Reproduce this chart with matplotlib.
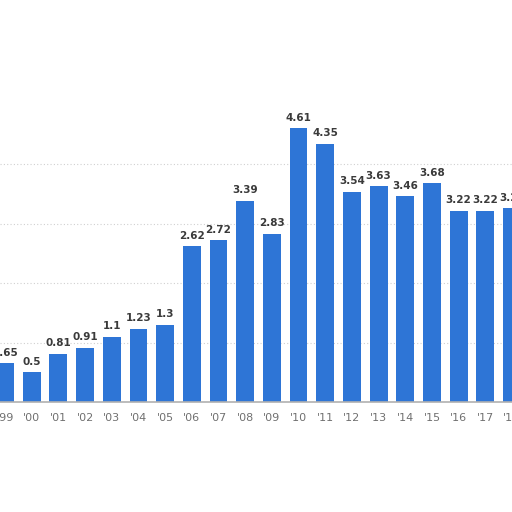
import matplotlib
matplotlib.use("Agg")
import matplotlib.pyplot as plt

years = ["'99", "'00", "'01", "'02", "'03", "'04", "'05", "'06", "'07", "'08",
         "'09", "'10", "'11", "'12", "'13", "'14", "'15", "'16", "'17", "'18"]
values = [0.65, 0.5, 0.81, 0.91, 1.1, 1.23, 1.3, 2.62, 2.72, 3.39,
          2.83, 4.61, 4.35, 3.54, 3.63, 3.46, 3.68, 3.22, 3.22, 3.26]
labels = ["0.65", "0.5", "0.81", "0.91", "1.1", "1.23", "1.3", "2.62", "2.72", "3.39",
          "2.83", "4.61", "4.35", "3.54", "3.63", "3.46", "3.68", "3.22", "3.22", "3.26"]

fig = plt.figure(figsize=(5.12, 5.12), dpi=100)
ax = fig.add_axes([0, 110/512, 1, 297/512])
x = list(range(len(years)))
ax.bar(x, values, width=0.67, color="#2e75d6", zorder=2)
ax.set_xlim(-0.19, 18.92)
ax.set_ylim(0, 5)
ax.set_yticks([1, 2, 3, 4])
ax.yaxis.grid(True, linestyle=(0, (1, 2)), color="#d0d0d0", linewidth=0.8, zorder=0)
ax.tick_params(axis='y', left=False, labelleft=False)
ax.set_xticks(x)
ax.set_xticklabels(years, fontsize=8, color="#707070")
ax.tick_params(axis='x', length=0, pad=8)
for s in ["top", "right", "left"]:
    ax.spines[s].set_visible(False)
ax.spines["bottom"].set_color("#b0b0b0")
ax.spines["bottom"].set_linewidth(1.2)
for xi, v, lab in zip(x, values, labels):
    ax.annotate(lab, (xi, v), xytext=(0, 4), textcoords="offset points",
                ha="center", va="bottom", fontsize=7.5, fontweight="bold",
                color="#3a3a3a", annotation_clip=False)
fig.savefig("out.png", dpi=100)
